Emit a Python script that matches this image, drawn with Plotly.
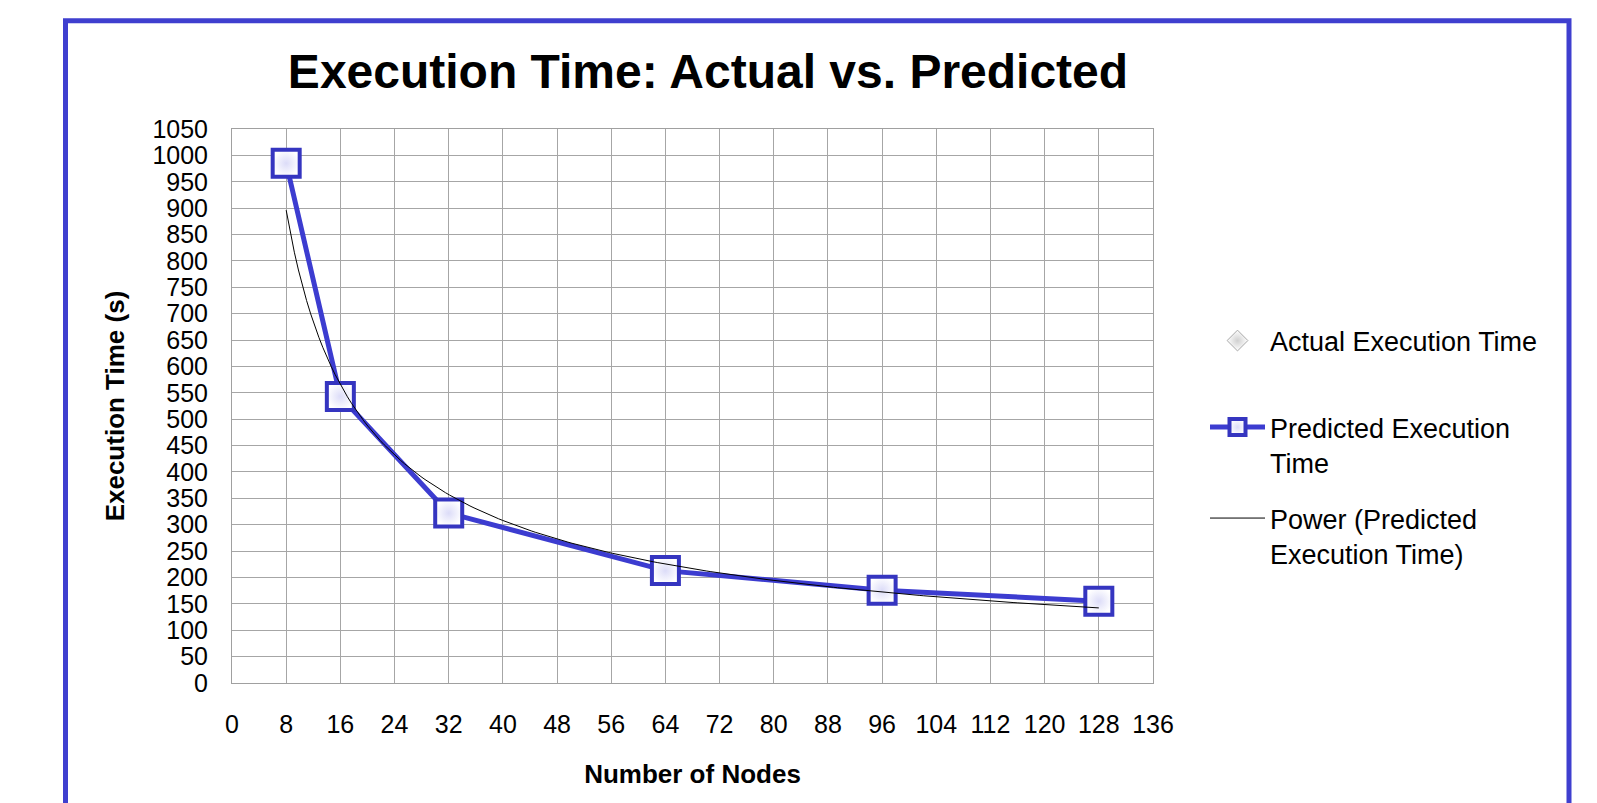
import numpy as np
import plotly.graph_objects as go

# ---- data ----
nodes = [8, 16, 32, 64, 96, 128]
predicted_time = [985, 543, 322, 213, 176, 155]
actual_nodes = [None]      # no actual points are visible in the chart
actual_time = [None]
x_ticks = list(range(0, 137, 8))
y_ticks = list(range(0, 1051, 50))

# Power trendline (least-squares fit in log-log space, as the spreadsheet does)
b, ln_a = np.polyfit(np.log(nodes), np.log(predicted_time), 1)
trend_x = np.linspace(min(nodes), max(nodes), 200)
trend_y = np.exp(ln_a) * trend_x ** b

FONT = "Arial, 'Liberation Sans', sans-serif"
BLUE = "#3c3cd0"

# plot area geometry in pixels (for paper-coordinate conversions)
W, H = 1597, 803
L, R, T, B = 232, 1153, 129, 683
pw, ph = R - L, B - T

def px_x(x):
    return (x - L) / pw

def px_y(y):
    return (B - y) / ph

fig = go.Figure()

fig.add_trace(go.Scatter(
    x=actual_nodes, y=actual_time, name="Actual Execution Time",
    mode="markers",
    marker=dict(symbol="diamond", size=18, color="white",
                line=dict(color="#a8a8a8", width=1),
                gradient=dict(type="radial", color="#d0d0d0")),
    legend="legend", showlegend=True,
))

fig.add_trace(go.Scatter(
    x=nodes, y=predicted_time, name="Predicted Execution<br>Time",
    mode="lines+markers",
    line=dict(color=BLUE, width=5),
    marker=dict(symbol="square", size=27, color="white",
                line=dict(color="#3535c0", width=4),
                gradient=dict(type="radial", color="#dcdcf8")),
    legend="legend2",
))

fig.add_trace(go.Scatter(
    x=trend_x, y=trend_y, name="Power (Predicted<br>Execution Time)",
    mode="lines",
    line=dict(color="black", width=1),
    legend="legend3",
))

legend_common = dict(
    font=dict(family=FONT, size=27, color="black"),
    bgcolor="rgba(0,0,0,0)", borderwidth=0,
    xanchor="left", yanchor="middle", valign="top",
    itemwidth=55,
)

fig.update_layout(
    width=W, height=H,
    showlegend=True,
    margin=dict(l=L, r=W - R, t=T, b=H - B),
    paper_bgcolor="white", plot_bgcolor="white",
    font=dict(family=FONT, color="black"),
    title=dict(text="<b>Execution Time: Actual vs. Predicted</b>",
               font=dict(family=FONT, size=48, color="black"),
               xref="container", x=708 / W, xanchor="center",
               yref="container", y=1 - 71 / H, yanchor="middle"),
    xaxis=dict(range=[0, 136], tickmode="array", tickvals=x_ticks,
               ticktext=[str(v) for v in x_ticks],
               showgrid=True, gridcolor="#a6a6a6", gridwidth=1,
               showline=True, linecolor="#a0a0a0", linewidth=1, mirror=True,
               zeroline=False, ticks="", ticklabelstandoff=19,
               tickfont=dict(family=FONT, size=25, color="black"),
               title=dict(text="<b>Number of Nodes</b>", standoff=27,
                          font=dict(family=FONT, size=26, color="black"))),
    yaxis=dict(range=[0, 1050], tickmode="array", tickvals=y_ticks,
               ticktext=[str(v) for v in y_ticks],
               showgrid=True, gridcolor="#a6a6a6", gridwidth=1,
               showline=True, linecolor="#a0a0a0", linewidth=1, mirror=True,
               zeroline=False, ticks="", ticklabelstandoff=18,
               tickfont=dict(family=FONT, size=25, color="black"),
               title=dict(text="<b>Execution Time (s)</b>", standoff=20,
                          font=dict(family=FONT, size=26, color="black"))),
    legend=dict(x=px_x(1205), y=px_y(341), visible=True, **legend_common),
    legend2=dict(x=px_x(1205), y=px_y(445), **legend_common),
    legend3=dict(x=px_x(1205), y=px_y(536), **legend_common),
    shapes=[dict(type="rect", xref="paper", yref="paper",
                 x0=px_x(65.5), x1=px_x(1569), y0=px_y(830), y1=px_y(20.8),
                 line=dict(color="#3f3fcf", width=5), fillcolor="rgba(0,0,0,0)",
                 layer="above")],
)

fig.write_html("out.html")
